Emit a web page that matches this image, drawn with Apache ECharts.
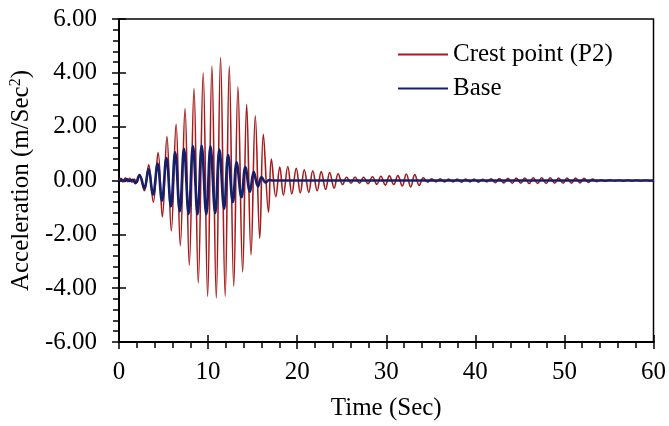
<!DOCTYPE html>
<html>
<head>
<meta charset="utf-8">
<script src="https://cdn.jsdelivr.net/npm/echarts@6/dist/echarts.min.js"></script>
<style>
  html, body { margin: 0; padding: 0; background: #fff; }
  #chart { width: 669px; height: 426px; }
</style>
</head>
<body>
<div id="chart"></div>
<script>
// peaks and troughs (sec, m/s^2)
const crestTime = [0, 0.2, 0.45, 0.7, 0.95, 1.2, 1.45, 1.7, 2.0, 2.3, 2.85, 3.33, 3.85, 4.39, 4.87, 5.38, 5.87, 6.41, 6.88, 7.41,
  7.89, 8.42, 8.9, 9.45, 9.95, 10.43, 10.92, 11.4, 11.92, 12.38, 12.88, 13.35, 13.88, 14.33, 14.82, 15.3, 15.8, 16.2, 16.78, 17.1,
  17.6, 18.05, 18.45, 18.95, 19.4, 19.9, 20.35, 20.8, 21.3, 21.75, 22.25, 22.7, 23.2, 23.65, 24.15, 24.6, 25.1, 25.55, 26.05, 26.5,
  27.0, 27.45, 27.95, 28.45, 28.95, 29.4, 29.9, 30.35, 30.85, 31.3, 31.8, 32.25, 32.75, 33.2, 33.7, 34.15, 34.65, 35.1, 35.6, 36.05,
  36.55, 37.0, 37.5, 37.95, 38.45, 38.9, 39.4, 39.85, 40.35, 40.8, 41.3, 41.75, 42.25, 42.7, 43.2, 43.65, 44.15, 44.6, 45.1, 45.55,
  46.05, 46.5, 47.0, 47.45, 47.95, 48.4, 48.9, 49.35, 49.85, 50.3, 50.8, 51.25, 51.75, 52.2, 52.7, 53.15, 53.65, 54.1, 54.6, 55.1,
  55.6, 56.1, 56.6, 57.1, 57.6, 58.1, 58.6, 59.1, 59.6, 60];
const crestAccel = [0, 0.08, -0.05, 0.1, -0.04, 0.08, -0.06, 0.05, -0.08, 0.2, -0.38, 0.58, -0.8, 1.04, -1.35, 1.63, -1.87, 2.09, -2.42, 2.66,
  -3.15, 3.42, -3.8, 3.99, -4.3, 4.25, -4.36, 4.57, -4.3, 4.24, -3.93, 3.48, -3.4, 2.82, -2.76, 2.4, -2.15, 1.72, -1.18, 0.8,
  -0.6, 0.5, -0.55, 0.52, -0.5, 0.45, -0.46, 0.4, -0.44, 0.36, -0.38, 0.33, -0.33, 0.3, -0.28, 0.25, -0.15, 0.12, -0.1, 0.13,
  -0.1, 0.12, -0.12, 0.14, -0.14, 0.16, -0.17, 0.17, -0.15, 0.18, -0.2, 0.24, -0.24, 0.22, -0.18, 0.1, -0.06, 0.06, -0.05, 0.06,
  -0.05, 0.05, -0.05, 0.05, -0.06, 0.05, -0.05, 0.05, -0.06, 0.04, -0.05, 0.06, -0.08, 0.07, -0.09, 0.08, -0.1, 0.09, -0.1, 0.09,
  -0.11, 0.1, -0.11, 0.1, -0.11, 0.1, -0.1, 0.09, -0.1, 0.09, -0.1, 0.09, -0.09, 0.08, -0.07, 0.05, -0.04, 0.03, -0.03, 0.03,
  -0.02, 0.02, -0.02, 0.02, -0.02, 0.02, -0.02, 0.02, -0.02, 0];

const baseTime = [0, 0.3, 0.6, 0.9, 1.2, 1.5, 1.85, 2.3, 2.85, 3.3, 3.82, 4.33, 4.82, 5.32, 5.83, 6.3, 6.82, 7.3, 7.82, 8.3,
  8.82, 9.28, 9.8, 10.27, 10.8, 11.27, 11.8, 12.25, 12.78, 13.2, 13.75, 14.18, 14.7, 15.12, 15.6, 16.0, 16.45, 16.85, 17.3, 60];
const baseAccel = [0, 0.03, -0.02, 0.04, -0.02, 0.03, -0.1, 0.2, -0.3, 0.42, -0.52, 0.62, -0.75, 0.83, -0.96, 1.05, -1.15, 1.18, -1.24, 1.28,
  -1.25, 1.3, -1.25, 1.27, -1.21, 1.15, -1.05, 0.95, -0.8, 0.68, -0.62, 0.5, -0.42, 0.32, -0.22, 0.13, -0.07, 0.02, 0, 0];

const seriesNames = ["Crest point (P2)", "Base"];

const pair = (ts, vs) => ts.map((t, i) => [t, vs[i]]);
const font = "Liberation Serif";
const fs = 25;

const chart = echarts.init(document.getElementById("chart"));
chart.setOption({
  animation: false,
  grid: {
    left: 118, right: 14, top: 19, bottom: 82,
    show: true, borderColor: "#000", borderWidth: 1.5
  },
  legend: {
    orient: "vertical",
    left: 392,
    top: 37,
    itemWidth: 50,
    itemHeight: 14,
    itemGap: 9,
    itemStyle: { opacity: 0 },
    textStyle: { fontFamily: font, fontSize: fs, color: "#000" },
    data: seriesNames
  },
  xAxis: [
    {
      type: "value", min: 0, max: 60, interval: 10,
      name: "Time (Sec)", nameLocation: "middle", nameGap: 54,
      nameTextStyle: { fontFamily: font, fontSize: fs, color: "#000" },
      axisLine: { onZero: false, lineStyle: { color: "#000", width: 2 } },
      axisTick: { length: 7, lineStyle: { color: "#000", width: 1.5 } },
      minorTick: { show: true, splitNumber: 5, length: 6, lineStyle: { color: "#000", width: 1.5 } },
      axisLabel: { fontFamily: font, fontSize: fs, color: "#000", margin: 18 },
      splitLine: { show: false }
    },
    {
      type: "value", min: 0, max: 60, interval: 10, position: "bottom",
      axisLine: { show: false, onZero: false },
      axisTick: { inside: true, length: 7, lineStyle: { color: "#000", width: 1.5 } },
      axisLabel: { show: false },
      splitLine: { show: false }
    }
  ],
  yAxis: [
    {
      type: "value", min: -6, max: 6, interval: 2,
      name: "Acceleration (m/Sec{sup|2})", nameLocation: "middle", nameGap: 85,
      nameTextStyle: {
        fontFamily: font, fontSize: fs, color: "#000",
        rich: { sup: { fontFamily: font, fontSize: 16, color: "#000", verticalAlign: "top", padding: [0, 0, 10, 0] } }
      },
      axisLine: { onZero: false, lineStyle: { color: "#000", width: 2 } },
      axisTick: { length: 7, lineStyle: { color: "#000", width: 1.5 } },
      minorTick: { show: true, splitNumber: 5, length: 6, lineStyle: { color: "#000", width: 1.5 } },
      axisLabel: {
        fontFamily: font, fontSize: fs, color: "#000", margin: 22,
        formatter: v => v.toFixed(2)
      },
      splitLine: { show: false }
    },
    {
      type: "value", min: -6, max: 6, interval: 2, position: "left", offset: 0,
      axisLine: { show: false, onZero: false },
      axisTick: { inside: true, length: 7, lineStyle: { color: "#000", width: 1.5 } },
      axisLabel: { show: false },
      splitLine: { show: false }
    }
  ],
  series: [
    {
      name: seriesNames[0], type: "line", xAxisIndex: 0, yAxisIndex: 0,
      symbol: "none", smooth: 0.4,
      lineStyle: { color: "#a51b1b", width: 1.6 },
      itemStyle: { color: "#a51b1b" },
      data: pair(crestTime, crestAccel)
    },
    {
      name: seriesNames[1], type: "line", xAxisIndex: 0, yAxisIndex: 0,
      symbol: "none", smooth: 0.4,
      lineStyle: { color: "#16206a", width: 2.6 },
      itemStyle: { color: "#16206a" },
      data: pair(baseTime, baseAccel)
    }
  ]
});
</script>
</body>
</html>
